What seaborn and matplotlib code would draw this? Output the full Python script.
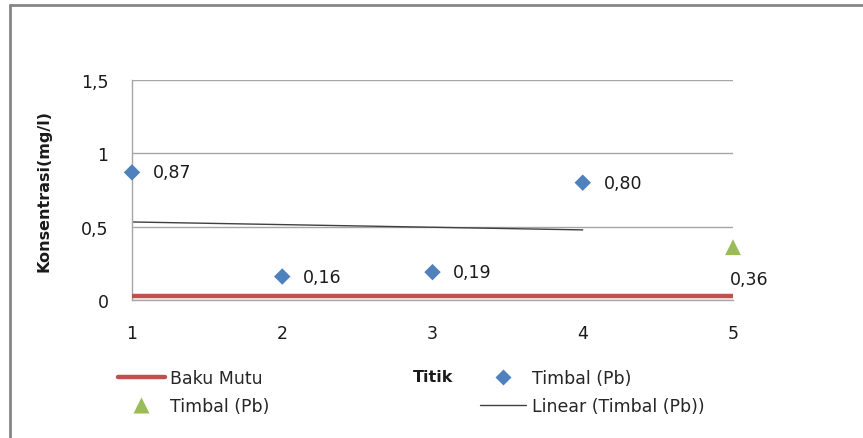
import numpy as np
import pandas as pd
import matplotlib
matplotlib.use("Agg")
import matplotlib.pyplot as plt
from matplotlib.lines import Line2D
import seaborn as sns

# Lead concentration per sampling point
titik = [1, 2, 3, 4]
timbal = [0.87, 0.16, 0.19, 0.80]
titik_5 = [5]
timbal_5 = [0.36]
baku_titik = [1, 2, 3, 4, 5]
baku_mutu = [0.03, 0.03, 0.03, 0.03, 0.03]
y_ticks = [0, 0.5, 1, 1.5]
y_tick_labels = ["0", "0,5", "1", "1,5"]

sns.set_theme(style="white")
plt.rcParams["font.family"] = ["DejaVu Sans"]

BLUE = "#4F81BD"
GREEN = "#9BBB59"
RED = "#C0504D"
TREND = "#404040"
GRID = "#A6A6A6"
TXT = "#1a1a1a"
FS = 12.5

fig = plt.figure(figsize=(8.63, 4.39), dpi=100)
ax = fig.add_axes([132 / 863, 1 - 301 / 439, 601 / 863, 220 / 439])

df_pb = pd.DataFrame({"Titik": titik, "Timbal": timbal})
df_5 = pd.DataFrame({"Titik": titik_5, "Timbal": timbal_5})
df_bm = pd.DataFrame({"Titik": baku_titik, "Baku": baku_mutu})

sns.lineplot(data=df_bm, x="Titik", y="Baku", ax=ax, color=RED, lw=3.2,
             zorder=3)
sns.regplot(data=df_pb, x="Titik", y="Timbal", ax=ax, scatter=False, ci=None,
            truncate=True, line_kws=dict(color=TREND, lw=1.0, zorder=2))
sns.scatterplot(data=df_pb, x="Titik", y="Timbal", ax=ax, marker="D", s=70,
                color=BLUE, edgecolor="none", zorder=4, clip_on=False)
sns.scatterplot(data=df_5, x="Titik", y="Timbal", ax=ax, marker="^", s=130,
                color=GREEN, edgecolor="none", zorder=4, clip_on=False)

# value labels with decimal comma
for x, y in zip(titik, timbal):
    ax.annotate(f"{y:.2f}".replace(".", ","), (x, y), xytext=(15, 0),
                textcoords="offset points", ha="left", va="center",
                fontsize=FS, color=TXT)
for x, y in zip(titik_5, timbal_5):
    ax.annotate(f"{y:.2f}".replace(".", ","), (x, y), xytext=(-2, -23),
                textcoords="offset points", ha="left", va="center",
                fontsize=FS, color=TXT)

ax.set_xlim(1, 5)
ax.set_ylim(0, 1.5)
ax.set_xticks([1, 2, 3, 4, 5])
ax.set_xticklabels(["1", "2", "3", "4", "5"])
ax.set_yticks(y_ticks)
ax.set_yticklabels(y_tick_labels)
ax.tick_params(axis="both", labelsize=FS, colors=TXT, length=0)
ax.tick_params(axis="x", pad=17)
ax.tick_params(axis="y", pad=17)
ax.yaxis.grid(True, color=GRID, lw=1.0)
ax.set_axisbelow(True)
for side in ["top", "right"]:
    ax.spines[side].set_visible(False)
for side in ["left", "bottom"]:
    ax.spines[side].set_color(GRID)
    ax.spines[side].set_linewidth(1.0)
ax.set_xlabel("")
ax.set_ylabel("Konsentrasi(mg/l)", fontsize=11.5, fontweight="bold",
              color=TXT)
ax.yaxis.set_label_coords(-80 / 601, 0.5)

fig.text(433 / 863, 1 - 378 / 439, "Titik", fontsize=11.5, fontweight="bold",
         ha="center", va="center", color=TXT)

handles = [
    Line2D([], [], color=RED, lw=3.2),
    Line2D([], [], color=GREEN, marker="^", ls="none", markersize=11,
           markeredgecolor="none"),
    Line2D([], [], color=BLUE, marker="D", ls="none", markersize=8,
           markeredgecolor="none"),
    Line2D([], [], color=TREND, lw=1.0),
]
labels = ["Baku Mutu", "Timbal (Pb)", "Timbal (Pb)", "Linear (Timbal (Pb))"]
fig.legend(handles, labels, ncol=2, frameon=False, fontsize=FS,
           loc="upper left", bbox_to_anchor=(118 / 863, 1 - 370 / 439),
           handlelength=2.7, handletextpad=0.3, columnspacing=12.1,
           labelspacing=0.6, borderaxespad=0, borderpad=0)

# chart frame edges
fig.add_artist(Line2D([10 / 863, 10 / 863], [0, 1 - 6 / 439],
                      transform=fig.transFigure, color="#868686", lw=2))
fig.add_artist(Line2D([10 / 863, 1], [1 - 6 / 439, 1 - 6 / 439],
                      transform=fig.transFigure, color="#868686", lw=2))

fig.savefig("out.png", dpi=100)
